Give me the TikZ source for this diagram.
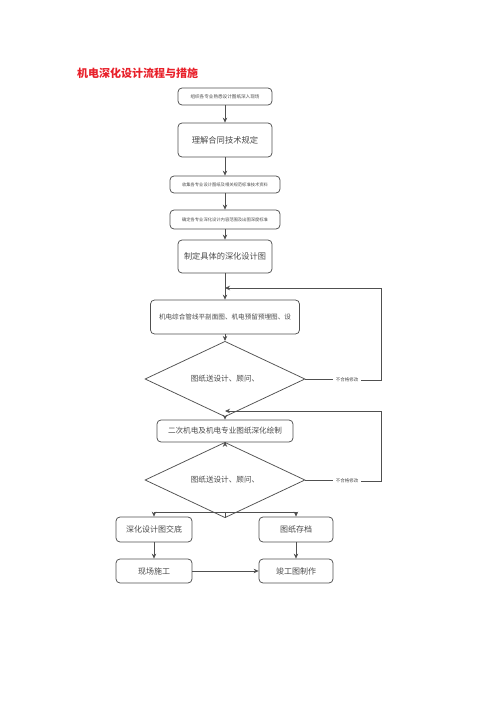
\documentclass[tikz,border=0pt]{standalone}
\usepackage{fontspec}
\setmainfont{Noto Sans CJK SC}
\newfontfamily\cjk{Noto Sans CJK SC}
\usetikzlibrary{shapes.geometric,arrows.meta}
\definecolor{edge}{HTML}{505050}
\definecolor{ink}{HTML}{4A4A4A}
\definecolor{titlered}{HTML}{E8202A}
\tikzset{
  box/.style={draw=edge, line width=0.75pt, rounded corners=4pt, inner sep=1pt, align=center, text=ink},
  dia/.style={draw=edge, line width=0.75pt, shape=diamond, inner sep=0pt, text=ink},
  conn/.style={draw=edge, line width=0.8pt},
  arr/.style={conn, -{Stealth[length=5pt,width=4.5pt]}},
  lab/.style={inner sep=3pt, text=ink, font=\cjk\fontsize{4.5}{5}\selectfont}
}
\begin{document}
\begin{tikzpicture}[x=1pt,y=-1pt]
\useasboundingbox (0,0) rectangle (500,707);
\node[anchor=west, text=titlered, font=\cjk\bfseries\fontsize{11}{13}\selectfont, inner sep=0pt] (title) at (77,73) {机电深化设计流程与措施};

\node[box, minimum width=94pt, minimum height=17pt, font=\cjk\fontsize{4.6}{5}\selectfont] (b1) at (225,96.5) {组织各专业熟悉设计图纸深入现场};
\node[box, minimum width=94pt, minimum height=34pt, font=\cjk\fontsize{8.3}{10}\selectfont] (b2) at (225,140) {理解合同技术规定};
\node[box, minimum width=110pt, minimum height=17pt, font=\cjk\fontsize{4.3}{5}\selectfont] (b3) at (225,184.5) {收集各专业设计图纸及相关规范标准技术资料};
\node[box, minimum width=110pt, minimum height=19pt, font=\cjk\fontsize{4.3}{5}\selectfont] (b4) at (225,219.5) {确定各专业深化设计内容范围及出图深度标准};
\node[box, minimum width=94pt, minimum height=33pt, font=\cjk\fontsize{8.2}{10}\selectfont] (b5) at (225,256.5) {制定具体的深化设计图};
\node[box, minimum width=149pt, minimum height=34pt, font=\cjk\fontsize{6.6}{8}\selectfont] (b6) at (225,317) {机电综合管线平剖面图、机电预留预埋图、设};
\node[dia, minimum width=160pt, minimum height=54pt, font=\cjk\fontsize{7.6}{9}\selectfont] (d1) at (225,379) {图纸送设计、顾问、};
\node[box, minimum width=136pt, minimum height=22pt, font=\cjk\fontsize{7.6}{9}\selectfont] (b7) at (225,431) {二次机电及机电专业图纸深化绘制};
\node[dia, minimum width=160pt, minimum height=50pt, font=\cjk\fontsize{7.6}{9}\selectfont] (d2) at (225,480) {图纸送设计、顾问、};
\node[box, minimum width=76pt, minimum height=25pt, font=\cjk\fontsize{8}{9}\selectfont] (b8) at (154,529.5) {深化设计图交底};
\node[box, minimum width=74pt, minimum height=25pt, font=\cjk\fontsize{8}{9}\selectfont] (b9) at (296,529.5) {图纸存档};
\node[box, minimum width=76pt, minimum height=24pt, font=\cjk\fontsize{8}{9}\selectfont] (b10) at (154,571) {现场施工};
\node[box, minimum width=74pt, minimum height=24pt, font=\cjk\fontsize{8}{9}\selectfont] (b11) at (296,571) {竣工图制作};

\node[lab] (l1) at (347,380) {不合格修改};
\node[lab] (l2) at (347,481) {不合格修改};

\coordinate (r1) at (381,288);
\coordinate (j1) at (225,288);
\coordinate (r2) at (381,411);
\coordinate (j2) at (225,411);
\coordinate (sp) at (225,512);

\draw[arr] (b1) -- (b2);
\draw[arr] (b2) -- (b3);
\draw[arr] (b3) -- (b4);
\draw[arr] (b4) -- (b5);
\draw[arr] (b5) -- (b6);
\draw[arr] (b6) -- (d1);
\draw[arr] (d1) -- (b7);
\draw[arr] (b7) -- (d2);

\draw[conn] (d1.east) -- (d1.east -| l1.west);
\draw[arr] (l1.east) -| (r1) -- (j1);
\draw[conn] (d2.east) -- (d2.east -| l2.west);
\draw[arr] (l2.east) -| (r2) -- (j2);

\draw[conn] (d2.south) -- (sp);
\draw[arr] (sp) -| (b8.north);
\draw[arr] (sp) -| (b9.north);
\draw[arr] (b8) -- (b10);
\draw[arr] (b9) -- (b11);
\draw[arr] (b10) -- (b11);
\end{tikzpicture}
\end{document}
